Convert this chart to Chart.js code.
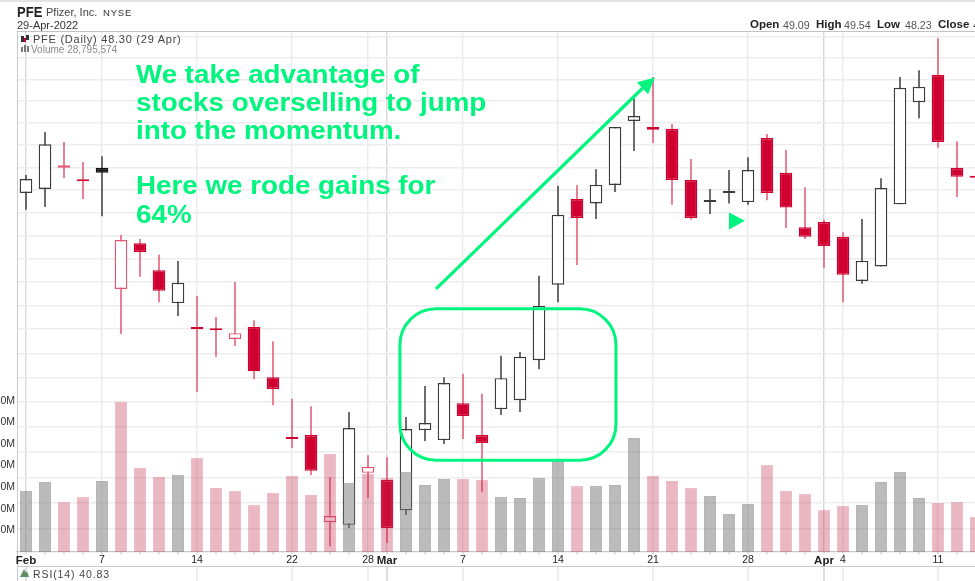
<!DOCTYPE html>
<html>
<head>
<meta charset="utf-8">
<title>PFE chart</title>
<script src="https://cdn.jsdelivr.net/npm/chart.js@4"></script>
<style>
html,body{margin:0;padding:0;background:#fff;overflow:hidden;width:975px;height:581px}
#wrap{position:relative;width:975px;height:581px;overflow:hidden}
#c{position:absolute;left:0;top:0;width:975px;height:581px;filter:blur(0.35px)}
.t{position:absolute;white-space:pre;line-height:1;font-family:"Liberation Sans",Arial,sans-serif;transform-origin:left top}
</style>
</head>
<body>
<div id="wrap"><canvas id="c" width="975" height="581"></canvas></div>
<script>
// Daily session values (USD)
const opens  = [52.43,52.52,52.99,52.71,52.99,50.35,51.33,50.75,50.05,49.55,49.49,49.30,49.55,48.51,47.30,47.34,45.63,45.58,46.59,46.45,45.86,47.44,47.24,47.98,47.34,47.86,48.04,48.86,50.44,52.30,52.20,52.61,54.05,53.91,53.87,52.72,52.23,52.43,52.23,53.66,52.88,51.68,51.79,51.47,50.52,50.83,52.18,54.48,55.11,52.99,52.80];
const closes = [52.74,53.52,53.05,52.69,52.88,51.40,51.14,50.31,50.48,49.50,49.48,49.42,48.63,48.27,47.26,46.63,45.75,47.48,46.71,45.52,47.46,47.58,48.39,47.72,47.18,48.49,48.93,49.99,51.95,51.88,52.61,53.91,54.16,53.85,52.72,51.88,52.27,52.47,52.94,52.43,52.11,51.47,51.27,50.65,50.95,52.54,54.81,54.83,53.57,52.79,52.77];
const highs  = [52.83,53.80,53.57,53.12,53.25,51.51,51.42,51.08,50.95,50.20,49.76,50.50,49.69,49.25,48.07,47.92,46.51,47.80,46.94,46.90,47.70,48.33,48.51,48.58,48.17,48.95,49.03,50.63,52.59,52.61,52.96,53.91,54.57,55.06,53.98,53.19,52.52,52.94,53.23,53.75,53.39,52.56,51.84,51.57,51.86,52.76,55.06,55.22,55.97,53.59,52.90];
const lows   = [52.06,52.12,52.76,52.30,51.92,49.40,50.61,50.07,49.78,48.21,48.93,49.15,48.47,47.94,47.08,46.55,45.17,45.52,46.10,45.23,45.77,47.22,47.16,47.26,46.22,47.74,47.80,48.67,50.07,50.86,51.86,52.45,53.37,53.55,52.17,51.84,51.97,52.20,52.17,52.27,51.66,51.42,50.80,50.07,50.46,50.83,52.18,54.11,53.44,52.34,52.60];
const volumes= [28.2,32.4,23.1,25.4,32.9,69.4,38.9,34.7,35.6,43.5,29.6,28.2,21.7,27.3,35.2,26.4,45.3,31.9,36.1,34.2,37.0,31.0,33.8,33.8,33.3,25.4,25.0,34.2,43.0,30.5,30.5,31.0,52.7,35.2,32.9,29.6,25.9,17.6,22.2,40.3,28.2,26.8,19.4,21.3,21.7,32.4,37.0,25.0,22.7,23.1,16.2];
const tickIndex  = [0,4,9,14,18,19,23,28,33,38,42,43,48];
const tickLabels = ['Feb','7','14','22','28','Mar','7','14','21','28','Apr','4','11'];
const monthLabels = ['Feb','Mar','Apr'];
const priceGrid = [45.5,46,46.5,47,47.5,48,48.5,49,49.5,50,50.5,51,51.5,52,52.5,53,53.5,54,54.5,55,55.5,56];
const volumeTicks = [10,20,30,40,50,60,70];
const noteLines = ['We take advantage of','stocks overselling to jump','into the momentum.','','Here we rode gains for','64%'];
// Annotations in chart coordinates: [session index, price]
const arrowFrom = [21.58,50.35], arrowTip = [33.1,55.05];
const arrowWingA = [32.16,54.94], arrowWingB = [32.74,54.66];
const boxCorners = [[19.68,49.93],[31.05,46.84]];
const marker = [[37,52.0],[37,51.63],[37.84,51.82]];

const GREEN='#00f57f', RED='#cf0030', REDW='#e2566f', INK='#3c3c3c';
const n = closes.length;
const isRed = closes.map((c,i)=> i>0 && c<closes[i-1]);
const isHollow = closes.map((c,i)=> c>opens[i]);
const wickData = highs.map((h,i)=>({x:i,y:[lows[i],h]}));
const bodyData = opens.map((o,i)=>({x:i,y:[o,closes[i]]}));
const volData  = volumes.map((v,i)=>({x:i,y:v}));

const decorations = {
  id:'decorations',
  beforeDraw(chart){
    const {ctx,scales:{x}} = chart, L = chart.chartArea.left, R = chart.chartArea.right;
    ctx.save();
    ctx.fillStyle='#e3e3e3'; ctx.fillRect(0,0,975,2);
    ctx.strokeStyle='#c9c9c9'; ctx.lineWidth=1;
    ctx.beginPath(); ctx.moveTo(L,566.5); ctx.lineTo(R,566.5); ctx.moveTo(17.5,552); ctx.lineTo(17.5,581); ctx.stroke();
    tickIndex.forEach((t,k)=>{
      ctx.strokeStyle = monthLabels.includes(tickLabels[k]) ? '#d2d2d2' : '#e9e9e9';
      ctx.lineWidth=1.4;
      const px=x.getPixelForValue(t);
      ctx.beginPath(); ctx.moveTo(px,567); ctx.lineTo(px,581); ctx.stroke();
    });
    ctx.strokeStyle='#c4c4c4'; ctx.lineWidth=1;
    for(let i=0;i<n;i++){const px=x.getPixelForValue(i); ctx.beginPath(); ctx.moveTo(px,552); ctx.lineTo(px,554.5); ctx.stroke();}
    ctx.restore();
  },
  afterDraw(chart){
    const {ctx,scales:{x,y}} = chart;
    const P = a => [x.getPixelForValue(a[0]), y.getPixelForValue(a[1])];
    ctx.save();
    ctx.strokeStyle=GREEN; ctx.fillStyle=GREEN; ctx.lineCap='butt';
    const [a,b]=[P(boxCorners[0]),P(boxCorners[1])];
    ctx.lineWidth=3;
    ctx.beginPath(); ctx.roundRect(a[0],a[1],b[0]-a[0],b[1]-a[1],36); ctx.stroke();
    const from=P(arrowFrom), tip=P(arrowTip), wa=P(arrowWingA), wb=P(arrowWingB);
    ctx.lineWidth=3.2;
    ctx.beginPath(); ctx.moveTo(from[0],from[1]); ctx.lineTo((wa[0]+wb[0])/2,(wa[1]+wb[1])/2); ctx.stroke();
    ctx.beginPath(); ctx.moveTo(tip[0],tip[1]); ctx.lineTo(wa[0],wa[1]); ctx.lineTo(wb[0],wb[1]); ctx.closePath(); ctx.fill();
    ctx.beginPath(); marker.map(P).forEach((m,i)=> i?ctx.lineTo(m[0],m[1]):ctx.moveTo(m[0],m[1])); ctx.closePath(); ctx.fill();
    ctx.fillStyle='#333'; ctx.fillRect(21,36,3,6); ctx.fillRect(26,35,3,5); ctx.fillStyle='#c03'; ctx.fillRect(24,38,2,4);
    ctx.fillStyle='#777'; ctx.fillRect(21,47,2,5); ctx.fillRect(24,45,2,7); ctx.fillRect(27,46,2,6);
    ctx.fillStyle='#5f8f5f'; ctx.beginPath(); ctx.moveTo(20,577); ctx.lineTo(24,569); ctx.lineTo(26,573); ctx.lineTo(27,571); ctx.lineTo(29,577); ctx.closePath(); ctx.fill();
    ctx.restore();
  }
};

new Chart(document.getElementById('c'),{
  data:{datasets:[
    {type:'bar',label:'Volume',yAxisID:'v',order:1,data:volData,grouped:false,barPercentage:1,maxBarThickness:12,
     backgroundColor:isRed.map(r=>r?'rgba(190,40,70,0.33)':'rgba(120,120,120,0.5)'),
     borderColor:isRed.map(r=>r?'rgba(210,70,100,0.35)':'rgba(110,110,110,0.5)'),borderWidth:1,borderSkipped:'bottom'},
    {type:'bar',label:'Body',yAxisID:'y',order:2,data:bodyData,grouped:false,barPercentage:1,maxBarThickness:12.6,minBarLength:2,
     backgroundColor:isRed.map((r,i)=>isHollow[i]?'#fff':(r?RED:'#111')),
     borderColor:isRed.map((r,i)=>isHollow[i]?(r?REDW:INK):(r?RED:'#111')),borderWidth:1.4,borderSkipped:false},
    {type:'bar',label:'Range',yAxisID:'y',order:3,data:wickData,grouped:false,barPercentage:1,maxBarThickness:1.5,
     backgroundColor:isRed.map(r=>r?REDW:INK),borderWidth:0}
  ]},
  options:{
    responsive:false,animation:false,devicePixelRatio:1,
    layout:{padding:{top:31,left:0,right:0,bottom:0}},
    plugins:{legend:{display:false},tooltip:{enabled:false},title:{display:false}},
    scales:{
      x:{type:'linear',offset:false,min:-9/19,max:949/19,
        afterBuildTicks(s){s.ticks=tickIndex.map(v=>({value:v}));},
        afterFit(s){s.height=29;},
        ticks:{autoSkip:false,maxRotation:0,padding:2,color:'#222',
          callback:v=>tickLabels[tickIndex.indexOf(v)],
          font:c=>{const lab=tickLabels[tickIndex.indexOf(c.tick&&c.tick.value)];
            return monthLabels.includes(lab)?{family:'"Liberation Sans"',size:11.5,weight:'bold'}:{family:'"Liberation Sans"',size:10.5};}},
        grid:{offset:false,drawTicks:false,tickLength:0,lineWidth:1.4,
          color:c=>monthLabels.includes(tickLabels[tickIndex.indexOf(c.tick&&c.tick.value)])?'#d6d6d6':'#ebebeb'},
        border:{color:'#c6c6c6',width:1.2}
      },
      y:{type:'logarithmic',position:'right',min:45.06,max:56.14,
        afterBuildTicks(s){s.ticks=priceGrid.map(v=>({value:v}));},
        afterFit(s){s.width=0;},
        ticks:{display:false},
        grid:{drawTicks:false,tickLength:0,color:'#ededed',lineWidth:1.6},
        border:{display:false}
      },
      v:{type:'linear',position:'left',min:0,max:241,
        afterBuildTicks(s){s.ticks=volumeTicks.map(v=>({value:v}));},
        afterFit(s){s.width=17;},
        ticks:{padding:2,color:'#333',font:{family:'"Liberation Sans"',size:10.5},callback:v=>v+'M'},
        grid:{display:false,drawTicks:false,tickLength:0},
        border:{color:'#c9c9c9',width:1}
      }
    }
  },
  plugins:[decorations]
});

const wrap=document.getElementById('wrap');
const topLine=document.createElement('div');
topLine.style.cssText='position:absolute;left:17px;right:0;top:31px;height:1px;background:#c2c2c2';
wrap.appendChild(topLine);
function label(text,x,base,size,css){
  const d=document.createElement('div');
  d.className='t'; d.textContent=text;
  d.style.left=x+'px'; d.style.top=(base-0.8465*size)+'px'; d.style.fontSize=size+'px';
  d.style.cssText+=';'+(css||'');
  wrap.appendChild(d);
}
label('PFE',17,17,14,'font-weight:bold;color:#222;transform:scaleX(0.93)');
label('Pfizer, Inc.',46,16.5,11,'color:#444');
label('NYSE',103,16,9.5,'color:#333;letter-spacing:.8px');
label('29-Apr-2022',17,29,11,'color:#333');
label('PFE (Daily) 48.30 (29 Apr)',33,43,11,'color:#444;letter-spacing:.75px');
label('Volume 28,795,574',31,53,10,'color:#8a8a8a');
label('RSI(14) 40.83',33,578,10.5,'color:#444;letter-spacing:.9px');
[['Open',750,'49.09',783],['High',816,'49.54',844],['Low',877,'48.23',905],['Close',938,'48.30',973]].forEach(r=>{
  label(r[0],r[1],29,11.5,'font-weight:bold;color:#222');
  label(r[2],r[3],29,10.7,'color:#555');
});
const noteBase=[83.5,112,140,0,195,223.5];
noteLines.forEach((s,i)=>{ if(s) label(s,136,noteBase[i],25.6,'font-weight:bold;color:'+GREEN+';transform:scaleX(1.085)'); });
</script>
</body>
</html>
